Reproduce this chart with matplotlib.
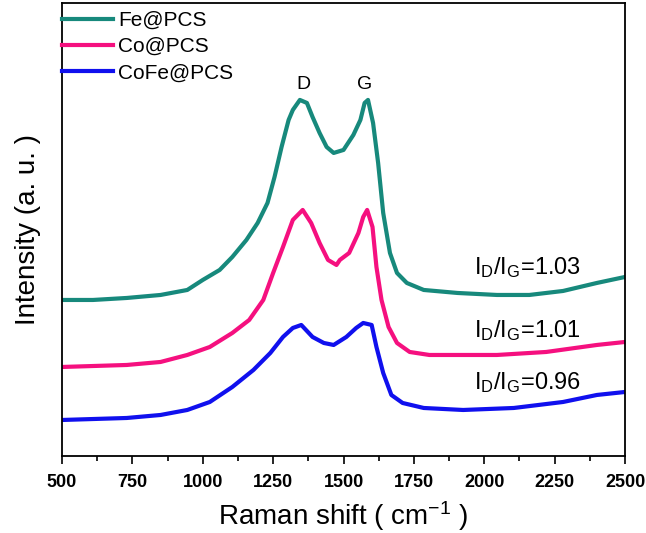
"""Raman spectra of Fe@PCS, Co@PCS and CoFe@PCS with D/G bands."""
import matplotlib

matplotlib.use("Agg")
import matplotlib.pyplot as plt

plt.rcParams.update({"font.family": ["Liberation Sans", "DejaVu Sans"],
                     "mathtext.fontset": "custom", "mathtext.rm": "Liberation Sans",
                     "mathtext.it": "Liberation Sans", "mathtext.bf": "Liberation Sans:bold"})

TEAL, PINK, BLUE = "#17897c", "#f5107f", "#1010ee"

# values (arbitrary intensity units, offset stacked)
FE_X = [500, 610, 730, 850, 945, 1000, 1060, 1105, 1155, 1195, 1230, 1255, 1280, 1305,
        1320, 1345, 1370, 1390, 1415, 1440, 1465, 1500, 1535, 1560, 1575, 1587, 1605,
        1623, 1641, 1665, 1690, 1725, 1785, 1905, 2045, 2160, 2280, 2400, 2500]
FE_Y = [156, 156, 158, 161, 166, 176, 186, 199, 216, 233, 253, 279, 309, 336,
        346, 356, 353, 339, 323, 309, 303, 306, 321, 336, 353, 356, 333,
        293, 243, 203, 183, 173, 166, 163, 161, 161, 165, 173, 179]

CO_X = [500, 730, 850, 945, 1025, 1105, 1165, 1215, 1250, 1285, 1320, 1355, 1385,
        1415, 1445, 1475, 1487, 1520, 1553, 1570, 1584, 1603, 1617, 1635, 1660, 1690,
        1735, 1805, 2045, 2220, 2400, 2500]
CO_Y = [89, 91, 94, 101, 109, 123, 136, 156, 183, 209, 236, 246, 233,
        213, 196, 191, 196, 203, 223, 239, 246, 229, 189, 156, 129, 113,
        104, 101, 101, 104, 111, 114]

COFE_X = [500, 730, 850, 945, 1025, 1105, 1180, 1240, 1285, 1320, 1350, 1390, 1430,
          1465, 1510, 1545, 1570, 1600, 1617, 1641, 1670, 1710, 1785, 1925, 2105,
          2280, 2400, 2500]
COFE_Y = [36, 38, 41, 46, 54, 69, 86, 103, 119, 128, 131, 119, 113,
          111, 119, 128, 133, 131, 109, 83, 61, 53, 48, 46, 48,
          54, 61, 64]

SERIES = [("Fe@PCS", FE_X, FE_Y, TEAL),
          ("Co@PCS", CO_X, CO_Y, PINK),
          ("CoFe@PCS", COFE_X, COFE_Y, BLUE)]

RATIO_LABELS = ["1.03", "1.01", "0.96"]
RATIO_Y = [188, 125, 73]
PEAKS = [("D", 1356, 371), ("G", 1576, 371)]

fig = plt.figure(figsize=(6.46, 5.33), dpi=100)
ax = fig.add_axes([0.096, 0.1445, 0.8715, 0.85])

for name, x, y, c in SERIES:
    ax.plot(x, y, color=c, lw=3, label=name, solid_joinstyle="round")

for txt, x, y in PEAKS:
    ax.text(x, y, txt, ha="center", va="center", fontsize=14)

for lab, y in zip(RATIO_LABELS, RATIO_Y):
    ax.text(1962, y, r"I$_\mathregular{D}$/I$_\mathregular{G}$=" + lab,
            ha="left", va="center", fontsize=17)

ax.set_xlim(500, 2500)
ax.set_ylim(0, 453)
ax.set_xticks(range(500, 2501, 250))
ax.set_xticks(range(625, 2500, 250), minor=True)
ax.set_yticks([])
ax.tick_params(axis="x", which="major", direction="out", length=6, width=1.2, pad=7)
ax.tick_params(axis="x", which="minor", direction="out", length=3.6, width=1.2)
for lab in ax.get_xticklabels():
    lab.set_fontweight("bold")
    lab.set_fontsize(13)
for s in ax.spines.values():
    s.set_linewidth(1.3)

ax.set_xlabel(r"Raman shift ( cm$^{\mathregular{-1}}$ )", fontsize=20, labelpad=6)
ax.set_ylabel("Intensity (a. u. )", fontsize=20, labelpad=15)

ax.legend(loc="upper left", bbox_to_anchor=(0.0, 0.982), frameon=False, fontsize=15,
          handlelength=2.45, handletextpad=0.25, labelspacing=0.34, borderaxespad=0.0,
          borderpad=0.0)

fig.savefig("out.png", dpi=100)
